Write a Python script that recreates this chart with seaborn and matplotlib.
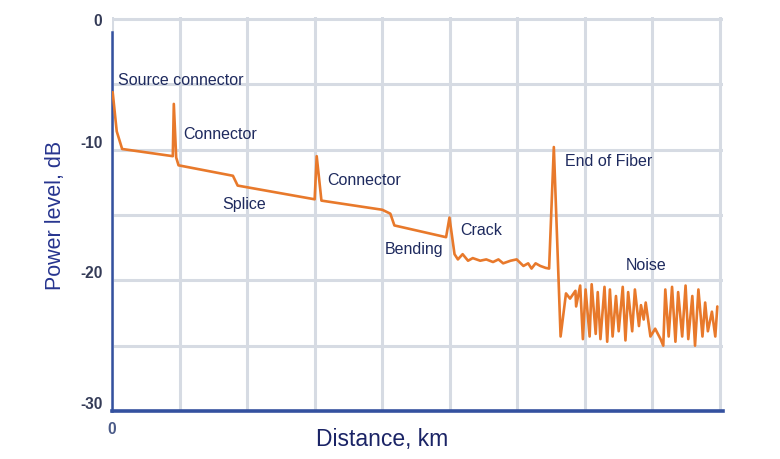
import matplotlib
matplotlib.use("Agg")
import matplotlib.pyplot as plt
import seaborn as sns
import pandas as pd

# OTDR trace
distance_km = [
    0.01, 0.07, 0.15, 0.90, 0.915, 0.95, 0.985, 1.79, 1.86, 3.00, 3.03, 3.10,
    4.00, 4.12, 4.18, 4.945, 4.995, 5.07, 5.12, 5.19, 5.27, 5.34, 5.45, 5.54,
    5.64, 5.72, 5.79, 5.90, 5.99, 6.09, 6.16, 6.21, 6.27, 6.34, 6.42, 6.47,
    6.54, 6.64, 6.72, 6.78, 6.86, 6.87, 6.93, 6.97, 7.01, 7.07, 7.10, 7.16,
    7.19, 7.23, 7.29, 7.33, 7.37, 7.41, 7.46, 7.50, 7.56, 7.60, 7.64, 7.70,
    7.74, 7.80, 7.83, 7.87, 7.90, 7.97, 8.04, 8.12, 8.16, 8.19, 8.24, 8.29,
    8.34, 8.38, 8.44, 8.49, 8.53, 8.59, 8.63, 8.68, 8.74, 8.78, 8.82, 8.88,
    8.93, 8.96,
]
power_db = [
    -5.6, -8.6, -9.95, -10.5, -6.5, -10.6, -11.2, -12.0, -12.75, -13.8, -10.5, -13.9,
    -14.6, -14.9, -15.8, -16.7, -15.2, -18.0, -18.4, -18.0, -18.5, -18.3, -18.5, -18.4,
    -18.6, -18.4, -18.7, -18.5, -18.4, -18.9, -18.7, -19.1, -18.7, -18.9, -19.05, -19.1,
    -9.8, -24.3, -21.0, -21.4, -20.8, -22.0, -20.4, -24.5, -20.7, -24.3, -20.3, -24.1,
    -20.9, -24.5, -20.5, -24.7, -20.7, -24.3, -21.2, -23.9, -20.5, -24.6, -20.9, -23.9,
    -20.7, -23.5, -21.9, -23.0, -21.7, -24.3, -23.7, -24.5, -25.0, -20.7, -24.3, -20.5,
    -24.7, -20.9, -24.3, -20.4, -24.5, -21.2, -25.0, -20.7, -24.3, -21.7, -23.9, -22.4,
    -24.3, -22.0,
]

event_labels = ["Source connector", "Connector", "Splice", "Connector",
                "Bending", "Crack", "End of Fiber", "Noise"]
label_x = [0.09, 1.06, 1.63, 3.19, 4.04, 5.15, 6.70, 7.61]
label_y = [-4.6, -8.8, -14.1, -12.3, -17.6, -16.1, -10.8, -18.8]

y_ticks = [-30, -25, -20, -15, -10, -5, 0]
y_tick_labels = ["-30", "", "-20", "", "-10", "", "0"]
x_ticks = list(range(10))
x_tick_labels = ["0"] + [""] * 9

trace = pd.DataFrame({"distance": distance_km, "power": power_db})

sns.set_style("white")
plt.rcParams["font.family"] = ["Liberation Sans", "DejaVu Sans"]

axis_blue = "#34519f"
text_navy = "#1e2a5e"
grid_grey = "#d6dbe3"

fig = plt.figure(figsize=(7.8, 4.6), dpi=100)
ax = fig.add_axes([112 / 780, 48 / 460, 611.4 / 780, 394 / 460])

sns.lineplot(data=trace, x="distance", y="power", sort=False, estimator=None,
             color="#e8792b", linewidth=1.9, ax=ax, zorder=3)

ax.set_xlim(0, 9.05)
ax.set_ylim(-30, 0.15)

ax.set_xticks(x_ticks)
ax.set_xticklabels(x_tick_labels)
ax.set_yticks(y_ticks)
ax.set_yticklabels(y_tick_labels)
ax.grid(True, color=grid_grey, linewidth=2.2, zorder=0)

for s in ["top", "right"]:
    ax.spines[s].set_visible(False)
ax.spines["left"].set_bounds(-30, -1.0)
ax.spines["left"].set_color(axis_blue)
ax.spines["left"].set_linewidth(1.8)
ax.spines["bottom"].set_color(axis_blue)
ax.spines["bottom"].set_linewidth(2.6)

ax.tick_params(axis="both", direction="inout", length=8, width=1.5,
               color=axis_blue, labelsize=11.2, labelcolor="#343b57", pad=3)
ax.yaxis.get_major_ticks()[-1].tick1line.set_visible(False)
ax.yaxis.get_major_ticks()[0].tick1line.set_visible(False)
ax.xaxis.get_major_ticks()[0].tick1line.set_visible(False)
for lab in ax.get_yticklabels() + ax.get_xticklabels():
    lab.set_fontweight("bold")
for lab in ax.get_yticklabels()[:-1]:
    lab.set_va("bottom")
ax.get_xticklabels()[0].set_color("#4a5a88")

ax.set_xlabel("Distance, km", fontsize=16.5, color="#1b2466")
ax.set_ylabel("Power level, dB", fontsize=15.5, color="#27358f")
ax.xaxis.set_label_coords(0.4416, -0.04)
ax.yaxis.set_label_coords(-0.075, 0.5)

for name, lx, ly in zip(event_labels, label_x, label_y):
    ax.text(lx, ly, name, fontsize=11.5, color=text_navy, ha="left", va="center")

fig.savefig("out.png", dpi=100)
